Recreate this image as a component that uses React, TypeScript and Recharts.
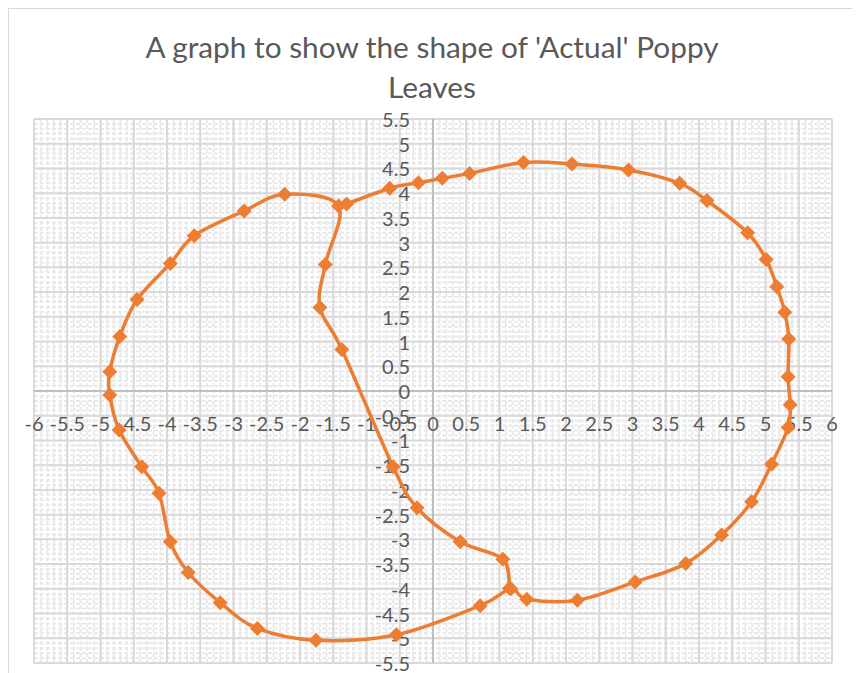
import React from "react";
import { ScatterChart, Scatter, XAxis, YAxis, CartesianGrid, ReferenceLine } from "recharts";

const titleLines = ["A graph to show the shape of 'Actual' Poppy", "Leaves"];

// leaf outline in drawing order: stem up the middle, round the left lobe,
// along the bottom, up the right side and back across the top
const leafX = [
    1.15, 1.05, 0.41, -0.24, -0.6, -1.37, -1.7, -1.62, -1.42, -2.23,
    -2.84, -3.59, -3.95, -4.45, -4.71, -4.86, -4.86, -4.72, -4.38, -4.12,
    -3.95, -3.68, -3.2, -2.64, -1.76, -0.55, 0.71, 1.17, 1.41, 2.17,
    3.04, 3.8, 4.34, 4.79, 5.09, 5.34, 5.37, 5.34, 5.35, 5.29,
    5.17, 5.01, 4.73, 4.12, 3.71, 2.94, 2.09, 1.36, 0.55, 0.14,
    -0.22, -0.65, -1.3,
];
const leafY = [
    -3.99, -3.4, -3.05, -2.36, -1.53, 0.84, 1.69, 2.56, 3.74, 3.98,
    3.64, 3.14, 2.58, 1.85, 1.1, 0.39, -0.08, -0.79, -1.53, -2.07,
    -3.05, -3.67, -4.28, -4.8, -5.04, -4.93, -4.34, -4.0, -4.21, -4.23,
    -3.86, -3.49, -2.91, -2.24, -1.48, -0.74, -0.28, 0.29, 1.05, 1.59,
    2.11, 2.66, 3.2, 3.85, 4.2, 4.47, 4.59, 4.62, 4.4, 4.3,
    4.21, 4.1, 3.78,
];

const xTicks = [-6, -5.5, -5, -4.5, -4, -3.5, -3, -2.5, -2, -1.5, -1, -0.5, 0, 0.5, 1, 1.5, 2, 2.5, 3, 3.5, 4, 4.5, 5, 5.5, 6];
const yTicks = [-5.5, -5, -4.5, -4, -3.5, -3, -2.5, -2, -1.5, -1, -0.5, 0, 0.5, 1, 1.5, 2, 2.5, 3, 3.5, 4, 4.5, 5, 5.5];

// minor gridlines every 0.1
const xMinor = Array.from({ length: 121 }, (_, i) => Math.round((-6 + i * 0.1) * 10) / 10);
const yMinor = Array.from({ length: 111 }, (_, i) => Math.round((-5.5 + i * 0.1) * 10) / 10);

const ORANGE = "#ED7D31";
const TEXT = "#595959";
const FONT = "Lato, 'Open Sans', sans-serif";

const leaf = leafX.map((x, i) => ({ x, y: leafY[i] }));
const xLabelPoints = xTicks.map((v) => ({ x: v, y: 0 }));
const yLabelPoints = yTicks.map((v) => ({ x: 0, y: v }));

// Excel-style smoothed line (Catmull-Rom through every point)
function smoothPath(pts: { x: number; y: number }[]) {
    if (!pts || pts.length < 2) return "";
    let d = `M${pts[0].x},${pts[0].y}`;
    for (let i = 0; i < pts.length - 1; i++) {
        const p0 = pts[i - 1] || pts[i];
        const p1 = pts[i];
        const p2 = pts[i + 1];
        const p3 = pts[i + 2] || p2;
        const c1x = p1.x + (p2.x - p0.x) / 6;
        const c1y = p1.y + (p2.y - p0.y) / 6;
        const c2x = p2.x - (p3.x - p1.x) / 6;
        const c2y = p2.y - (p3.y - p1.y) / 6;
        d += ` C${c1x},${c1y} ${c2x},${c2y} ${p2.x},${p2.y}`;
    }
    return d;
}

// minor grid positions, through the axis scale when it is handed over
const minorVertical = ({ xAxis, offset }: any) =>
    xMinor.map((v) =>
        xAxis && typeof xAxis.scale === "function" ? xAxis.scale(v) : offset.left + ((v + 6) / 12) * offset.width
    );
const minorHorizontal = ({ yAxis, offset }: any) =>
    yMinor.map((v) =>
        yAxis && typeof yAxis.scale === "function" ? yAxis.scale(v) : offset.top + ((5.5 - v) / 11) * offset.height
    );

const Diamond = ({ cx, cy }: any) => {
    const r = 7.5;
    return <path d={`M${cx},${cy - r}L${cx + r},${cy}L${cx},${cy + r}L${cx - r},${cy}Z`} fill={ORANGE} />;
};

const XLabel = ({ cx, cy, payload }: any) => (
    <text x={cx} y={cy + 32} textAnchor="middle" dominantBaseline="central" fill={TEXT} fontSize={20} fontFamily={FONT}>
        {String(payload.x)}
    </text>
);

const YLabel = ({ cx, cy, payload }: any) => (
    <text x={cx - 23} y={cy} textAnchor="end" dominantBaseline="central" fill={TEXT} fontSize={20} fontFamily={FONT}>
        {String(payload.y)}
    </text>
);

export default function App() {
    return (
        <div style={{ position: "relative", width: 848, height: 680 }}>
            <div
                style={{
                    position: "absolute",
                    left: 0,
                    top: 0,
                    width: 848,
                    height: 680,
                    boxSizing: "border-box",
                    border: "1.5px solid #d9d9d9",
                    pointerEvents: "none",
                }}
            />
            <div
                style={{
                    position: "absolute",
                    left: 0,
                    top: 19,
                    width: 848,
                    textAlign: "center",
                    color: TEXT,
                    fontFamily: FONT,
                    fontSize: 29.8,
                    lineHeight: "40px",
                }}
            >
                {titleLines.map((t) => (
                    <div key={t}>{t}</div>
                ))}
            </div>
            <ScatterChart width={848} height={680} margin={{ top: 111, right: 24, bottom: 25, left: 26 }}>
                <XAxis type="number" dataKey="x" domain={[-6, 6]} ticks={xTicks} hide />
                <YAxis type="number" dataKey="y" domain={[-5.5, 5.5]} ticks={yTicks} hide />
                <CartesianGrid
                    stroke="#e9e9e9"
                    strokeWidth={2}
                    strokeDasharray="4 2"
                    verticalCoordinatesGenerator={minorVertical}
                    horizontalCoordinatesGenerator={minorHorizontal}
                />
                <CartesianGrid stroke="#d9d9d9" strokeWidth={2} />
                <ReferenceLine x={0} stroke="#bfbfbf" strokeWidth={2} />
                <ReferenceLine y={0} stroke="#bfbfbf" strokeWidth={2} />
                <Scatter data={xLabelPoints} shape={XLabel} isAnimationActive={false} />
                <Scatter data={yLabelPoints} shape={YLabel} isAnimationActive={false} />
                <Scatter
                    name="Leaf"
                    data={leaf}
                    fill={ORANGE}
                    line={(props: any) => (
                        <path d={smoothPath(props.points)} fill="none" stroke={ORANGE} strokeWidth={3.5} strokeLinejoin="round" />
                    )}
                    shape={Diamond}
                    isAnimationActive={false}
                />
            </ScatterChart>
        </div>
    );
}
